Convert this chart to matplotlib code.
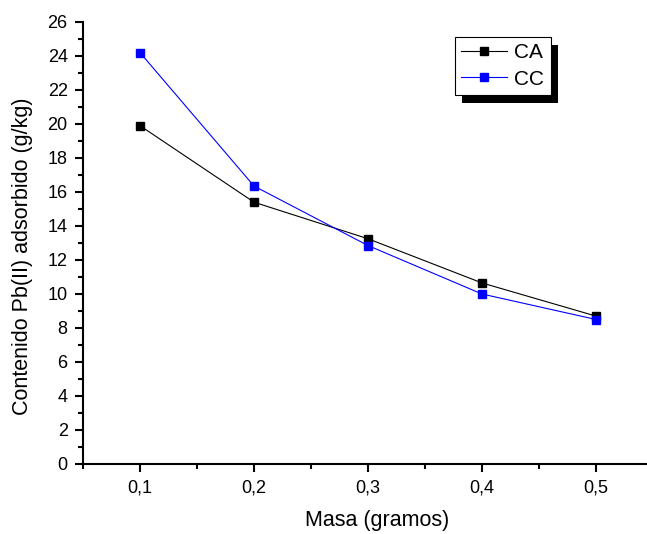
import matplotlib
matplotlib.use('Agg')
import matplotlib.pyplot as plt
from matplotlib.patches import Rectangle
from matplotlib.ticker import MultipleLocator, FuncFormatter

plt.rcParams['font.family'] = ['Liberation Sans', 'DejaVu Sans']

# datos
masa = [0.1, 0.2, 0.3, 0.4, 0.5]
ca = [19.9, 15.4, 13.25, 10.65, 8.7]
cc = [24.2, 16.35, 12.85, 10.0, 8.5]

fig = plt.figure(figsize=(6.47, 5.34), dpi=100)
ax = fig.add_axes([83/647, 70/534, 1 - 83/647, 442/534])

ax.plot(masa, ca, '-s', color='black', lw=0.8, ms=6, label='CA')
ax.plot(masa, cc, '-s', color='blue', lw=0.8, ms=6, label='CC')

ax.set_xlim(0.05, 0.05 + (647 - 83) / 1140)
ax.set_ylim(0, 26)
ax.xaxis.set_major_locator(MultipleLocator(0.1))
ax.xaxis.set_minor_locator(MultipleLocator(0.05))
ax.yaxis.set_major_locator(MultipleLocator(2))
ax.yaxis.set_minor_locator(MultipleLocator(1))
ax.xaxis.set_major_formatter(FuncFormatter(lambda v, p: ('%.1f' % v).replace('.', ',')))

for s in ['top', 'right']:
    ax.spines[s].set_visible(False)
for s in ['left', 'bottom']:
    ax.spines[s].set_linewidth(1.5)
ax.tick_params(which='major', direction='out', length=6, width=1.5, labelsize=13, pad=5)
ax.tick_params(which='minor', direction='out', length=3.5, width=1.5)

ax.set_xlabel('Masa (gramos)', fontsize=15.5)
ax.xaxis.set_label_coords((377 - 83) / (647 - 83), -(510 - 464) / 442)
ax.set_ylabel('Contenido Pb(II) adsorbido (g/kg)', fontsize=15.5)
ax.yaxis.set_label_coords(-(83 - 33) / 564, (464 - 256) / 442)

leg = ax.legend(loc='upper left', bbox_to_anchor=(455/647, 1 - 37/534),
                bbox_transform=fig.transFigure, fontsize=15, frameon=True,
                fancybox=False, edgecolor='black', framealpha=1,
                handlelength=2.2, handletextpad=0.35, borderpad=0.3,
                labelspacing=0.35, borderaxespad=0, numpoints=1, markerscale=0.85)
leg.get_frame().set_linewidth(0.8)
leg.set_zorder(5)

fig.canvas.draw()
bb = leg.get_window_extent().transformed(fig.transFigure.inverted())
shadow = Rectangle((bb.x0 + 7/647, bb.y0 - 8/534), bb.width, bb.height,
                   transform=fig.transFigure, facecolor='black', edgecolor='none',
                   zorder=4, clip_on=False)
ax.add_patch(shadow)

fig.savefig('out.png', dpi=100)
